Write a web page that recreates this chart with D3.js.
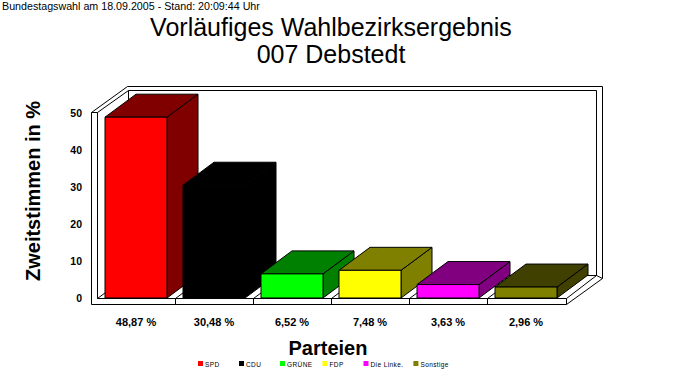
<!DOCTYPE html>
<html><head><meta charset="utf-8">
<script src="https://cdn.jsdelivr.net/npm/d3@7"></script>
<style>body{margin:0;background:#fff} svg{display:block;font-family:"Liberation Sans",Arial,sans-serif}</style>
</head><body><svg id="c" width="683" height="380"></svg>
<script>
const parties = ["SPD","CDU","GRÜNE","FDP","Die Linke.","Sonstige"];
const shares = [48.87,30.48,6.52,7.48,3.63,2.96];
const valueLabels = ["48,87 %","30,48 %","6,52 %","7,48 %","3,63 %","2,96 %"];
const yTicks = [0,10,20,30,40,50];
const frontColors = ["#ff0000","#000000","#00ff00","#ffff00","#ff00ff","#808000"];
const sideColors = ["#800000","#000000","#008000","#808000","#800080","#404000"];
const headerText = "Bundestagswahl am 18.09.2005 - Stand: 20:09:44 Uhr";
const titleLines = ["Vorläufiges Wahlbezirksergebnis","007 Debstedt"];
const yTitle = "Zweitstimmen in %";
const xTitle = "Parteien";

const svg = d3.select("#c");
svg.append("rect").attr("width",683).attr("height",380).attr("fill","#fff");

const x = d3.scaleBand().domain(parties).range([97,565]).paddingInner(0.2).paddingOuter(0.1);
const y = d3.scaleLinear().domain([0,50]).range([298,113]);
const DX = 31, DY = -23;      // bar depth
const WX = 36, WY = -26;      // wall outer depth

const L0 = x.range()[0], R0 = x.range()[1] + 1;
const yTopW = y(50) - 1, fTop = y(0), fBot = y(0) + 6, wallL = L0 - 6;

const frame = svg.append("g").attr("fill","none").attr("stroke","#000").attr("stroke-width",1)
  .attr("transform","translate(0.5,0.5)");
const line = (pts) => frame.append("path").attr("d", d3.line()(pts));

// back wall
line([[wallL+WX, yTopW+WY],[R0+WX, yTopW+WY],[R0+WX, fBot+WY]]);
line([[L0+DX, yTopW+DY+1],[R0+DX-1, yTopW+DY+1],[R0+DX-1, fTop+DY]]);
line([[L0+DX, yTopW+DY+1],[L0+DX, fTop+DY]]);
// left wall
line([[wallL, yTopW],[wallL, fBot]]);
line([[L0, yTopW],[L0, fTop]]);
line([[wallL, yTopW],[L0, yTopW]]);
line([[wallL, yTopW],[wallL+WX, yTopW+WY]]);
line([[L0, yTopW],[L0+DX, yTopW+DY+1]]);
// floor
line([[wallL, fBot],[R0, fBot],[R0, fTop],[L0, fTop]]);
line([[L0+DX, fTop+DY],[R0+DX-1, fTop+DY]]);
line([[R0, fTop],[R0+DX-1, fTop+DY]]);
line([[R0, fBot],[R0+WX, fBot+WY]]);
line([[R0+DX-1, fTop+DY],[R0+WX, fBot+WY]]);
// floor separators
const step = x.step();
const seps = d3.range(0, parties.length).map(i => L0 + i*step);
seps.forEach(sx => line([[sx, fTop],[sx+DX, fTop+DY]]));
seps.slice(1).forEach(sx => line([[sx, fTop],[sx, fBot]]));

// bars
const bars = svg.append("g").attr("stroke","#000").attr("stroke-width",1).attr("stroke-linejoin","round");
parties.forEach((p,i) => {
  const x0 = Math.round(x(p)), x1 = Math.round(x(p)+x.bandwidth());
  const yt = y(shares[i]), yb = fTop;
  const g = bars.append("g");
  g.append("path").attr("fill", sideColors[i])
    .attr("d", d3.line()([[x1,yb],[x1+DX,yb+DY],[x1+DX,yt+DY],[x1,yt]]) + "Z");
  g.append("path").attr("fill", sideColors[i])
    .attr("d", d3.line()([[x0,yt],[x0+DX,yt+DY],[x1+DX,yt+DY],[x1,yt]]) + "Z");
  g.append("rect").attr("fill", frontColors[i])
    .attr("x", x0).attr("y", yt).attr("width", x1-x0).attr("height", yb-yt);
});

// y tick labels
svg.append("g").selectAll("text").data(yTicks).join("text")
  .attr("x", 82).attr("y", d => y(d)).attr("dy","0.36em")
  .attr("text-anchor","end").attr("font-size",10.5).attr("font-weight","bold")
  .text(d => d);

// value labels
svg.append("g").selectAll("text").data(parties).join("text")
  .attr("x", d => x(d) + x.bandwidth()/2).attr("y", 326)
  .attr("text-anchor","middle").attr("font-size",11).attr("font-weight","bold")
  .text((d,i) => valueLabels[i]);

// header and title
svg.append("text").attr("x",2).attr("y",10).attr("font-size",10.7).text(headerText);
svg.append("g").selectAll("text").data(titleLines).join("text")
  .attr("x", 331).attr("y", (d,i) => 36 + i*27)
  .attr("text-anchor","middle").attr("font-size",25)
  .text(d => d);

// axis titles
svg.append("text").attr("transform","translate(40,191) rotate(-90)")
  .attr("text-anchor","middle").attr("font-size",20).attr("font-weight","bold").text(yTitle);
svg.append("text").attr("x",328).attr("y",355)
  .attr("text-anchor","middle").attr("font-size",20).attr("font-weight","bold").text(xTitle);

// legend
const leg = svg.append("g");
let lx = 198;
parties.forEach((p,i) => {
  leg.append("rect").attr("x", lx).attr("y", 361).attr("width",5).attr("height",5).attr("fill", frontColors[i]);
  const t = leg.append("text").attr("x", lx+7).attr("y", 366.5).attr("font-size",6.5)
    .attr("letter-spacing", 0.4).text(p);
  lx += Math.max(41, 7 + t.node().getComputedTextLength() + 10);
});
</script></body></html>
